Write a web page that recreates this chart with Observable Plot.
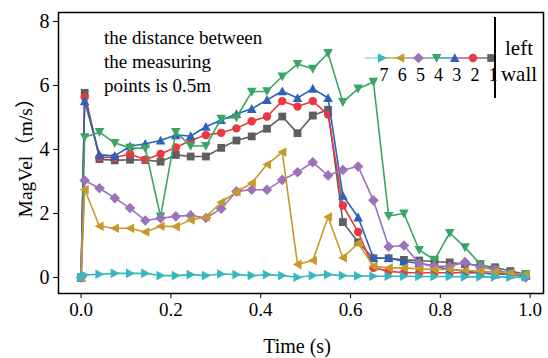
<!DOCTYPE html>
<html>
<head>
<meta charset="utf-8">
<script src="https://cdn.jsdelivr.net/npm/d3@7"></script>
<script src="https://cdn.jsdelivr.net/npm/@observablehq/plot@0.6"></script>
<style>
  body { margin: 0; background: #fff; }
  #chart { width: 548px; height: 358px; }
</style>
</head>
<body>
<div id="chart"></div>
<script>
// Sampling times (s)
const time = [0, 0.008, 0.041, 0.075, 0.109, 0.143, 0.177, 0.211, 0.244, 0.278, 0.312,
  0.346, 0.380, 0.414, 0.448, 0.482, 0.516, 0.550, 0.583, 0.617, 0.651,
  0.685, 0.719, 0.753, 0.787, 0.821, 0.855, 0.889, 0.922, 0.956, 0.990];

// Velocity magnitude (m/s) at measuring points 1..7
const point1 = [0, 5.77, 3.70, 3.66, 3.68, 3.67, 3.62, 3.83, 3.78, 3.78, 4.05,
  4.28, 4.41, 4.65, 5.03, 4.51, 5.06, 5.24, 1.73, 1.10, 0.60,
  0.60, 0.55, 0.53, 0.50, 0.47, 0.42, 0.37, 0.32, 0.20, 0.10];
const point2 = [0, 5.63, 3.76, 3.75, 3.86, 3.68, 3.86, 4.06, 4.28, 4.45, 4.52,
  4.66, 4.88, 5.03, 5.51, 5.34, 5.51, 5.09, 2.25, 1.42, 0.30,
  0.20, 0.15, 0.15, 0.15, 0.15, 0.15, 0.14, 0.12, 0.10, 0.10];
const point3 = [0, 5.51, 3.83, 3.80, 4.10, 4.18, 4.28, 4.45, 4.42, 4.71, 4.92,
  5.11, 5.27, 5.55, 5.82, 5.61, 5.90, 5.61, 2.56, 1.88, 0.61,
  0.61, 0.50, 0.45, 0.35, 0.25, 0.20, 0.15, 0.10, 0.10, 0.05];
const point4 = [0, 4.38, 4.54, 4.20, 4.05, 4.03, 1.90, 4.54, 4.11, 4.11, 4.96,
  5.00, 5.80, 5.82, 6.28, 6.67, 6.52, 7.01, 5.48, 5.90, 6.11,
  1.92, 2.00, 0.86, 0.55, 1.39, 0.94, 0.42, 0.25, 0.12, 0.10];
const point5 = [0, 3.03, 2.79, 2.48, 2.17, 1.78, 1.85, 1.91, 1.94, 1.86, 2.15,
  2.69, 2.74, 2.74, 3.05, 3.29, 3.60, 3.19, 3.36, 3.47, 2.41,
  0.96, 1.00, 0.44, 0.35, 0.35, 0.48, 0.32, 0.25, 0.10, 0.00];
const point6 = [0, 2.75, 1.60, 1.54, 1.54, 1.42, 1.60, 1.59, 1.80, 1.89, 2.35,
  2.67, 2.95, 3.53, 3.92, 0.41, 0.53, 1.89, 0.62, 1.07, 0.35,
  0.30, 0.30, 0.27, 0.25, 0.25, 0.22, 0.20, 0.17, 0.13, 0.10];
const point7 = [0, 0.08, 0.10, 0.13, 0.13, 0.13, 0.06, 0.06, 0.09, 0.06, 0.11,
  0.09, 0.06, 0.09, 0.06, 0.01, 0.06, 0.09, 0.06, 0.05, 0.04,
  0.04, 0.04, 0.03, 0.03, 0.03, 0.02, 0.02, 0.02, 0.01, 0.01];

const pointNames = ["1", "2", "3", "4", "5", "6", "7"];
const pointColors = ["#5f5f5f", "#e8393c", "#2d62b9", "#3aa566", "#9c72bd", "#c9982c", "#37b7bf"];
const xTicks = [0, 0.2, 0.4, 0.6, 0.8, 1.0];
const yTicks = [0, 2, 4, 6, 8];
const noteLines = ["the distance between", "the measuring", "points is 0.5m"];
const wallLines = ["left", "wall"];

// Marker shapes: polygon outlines scaled by the dot radius
const polygon = (pts) => ({
  draw(ctx, size) {
    const a = Math.sqrt(size / Math.PI);
    ctx.moveTo(pts[0][0] * a, pts[0][1] * a);
    for (let i = 1; i < pts.length; ++i) ctx.lineTo(pts[i][0] * a, pts[i][1] * a);
    ctx.closePath();
  }
});
const shapes = [
  {symbol: polygon([[-0.85, -0.85], [0.85, -0.85], [0.85, 0.85], [-0.85, 0.85]]), r: 4.6}, // square
  {symbol: "circle", r: 4.2},                                                              // circle
  {symbol: polygon([[0, -1], [1, 0.85], [-1, 0.85]]), r: 4.8},                             // triangle up
  {symbol: polygon([[0, 1], [1, -0.85], [-1, -0.85]]), r: 4.8},                            // triangle down
  {symbol: polygon([[0, -1], [1, 0], [0, 1], [-1, 0]]), r: 5.3},                           // diamond
  {symbol: polygon([[-1, 0], [0.85, -1], [0.85, 1]]), r: 4.8},                             // triangle left
  {symbol: polygon([[1, 0], [-0.85, -1], [-0.85, 1]]), r: 4.8}                             // triangle right
];

const seriesValues = [point1, point2, point3, point4, point5, point6, point7];
const series = seriesValues.map((vals, i) => ({
  name: pointNames[i],
  color: pointColors[i],
  shape: shapes[i],
  rows: time.map((t, j) => ({time: t, vel: vals[j], point: pointNames[i]}))
}));

const font = "'Liberation Serif', 'Times New Roman', serif";

const marks = [];
for (const s of series) {
  marks.push(Plot.line(s.rows, {x: "time", y: "vel", stroke: s.color, strokeWidth: 1.6}));
  marks.push(Plot.dot(s.rows, {x: "time", y: "vel", symbol: s.shape.symbol, r: s.shape.r, fill: s.color, stroke: "none"}));
}

const chart = Plot.plot({
  width: 548,
  height: 358,
  marginLeft: 58,
  marginRight: 5,
  marginTop: 12,
  marginBottom: 65,
  style: {fontFamily: font, fontSize: "19px", color: "black", background: "white"},
  x: {domain: [-0.0503, 1.0298]},
  y: {domain: [-0.5, 8.28]},
  marks: [
    ...marks,
    Plot.axisX({ticks: xTicks, tickFormat: (d) => d.toFixed(1), tickSize: 5, tickPadding: 4, label: null,
      fontSize: 19, fontFamily: font}),
    Plot.axisY({ticks: yTicks, tickSize: 5, tickPadding: 4, label: null, fontSize: 20, fontFamily: font}),
    Plot.frame({stroke: "black", strokeWidth: 1.5})
  ]
});
document.getElementById("chart").appendChild(chart);

// Titles, note and the in-plot legend
const svg = d3.select(chart);

svg.append("text")
  .attr("transform", "translate(25,153) rotate(-90)")
  .attr("text-anchor", "middle")
  .attr("dominant-baseline", "central")
  .style("font-family", font + ", 'Noto Sans CJK SC'")
  .style("font-size", "19.5px")
  .text("MagVel（m/s）");

svg.append("text")
  .attr("x", 297).attr("y", 353)
  .attr("text-anchor", "middle")
  .style("font-family", font)
  .style("font-size", "20px")
  .text("Time (s)");

svg.append("g")
  .style("font-family", font)
  .style("font-size", "19px")
  .attr("text-anchor", "start")
  .selectAll("text")
  .data(noteLines)
  .join("text")
  .attr("text-anchor", "start")
  .attr("x", 104)
  .attr("y", (d, i) => 44 + i * 24)
  .text((d) => d);

// Legend: points 7..1 laid out left to right toward the wall
const legendOrder = series.slice().reverse();
const legendX = (i) => 382 + i * 18.2;
const legendY = 58;
const lg = svg.append("g");
legendOrder.forEach((s, i) => {
  lg.append("line")
    .attr("x1", legendX(i) - 17).attr("x2", Math.min(legendX(i) + 17, 495))
    .attr("y1", legendY).attr("y2", legendY)
    .attr("stroke", s.color).attr("stroke-width", 1.2).attr("stroke-opacity", 0.8);
});
legendOrder.forEach((s, i) => {
  const sym = typeof s.shape.symbol === "string" ? d3.symbolCircle : s.shape.symbol;
  lg.append("path")
    .attr("transform", `translate(${legendX(i)},${legendY})`)
    .attr("d", d3.symbol().type(sym).size(Math.PI * s.shape.r * s.shape.r)())
    .attr("fill", s.color);
  lg.append("text")
    .attr("x", legendX(i) + 2).attr("y", 81)
    .attr("text-anchor", "middle")
    .style("font-family", font)
    .style("font-size", "18px")
    .text(s.name);
});
lg.append("line")
  .attr("x1", 495).attr("x2", 495).attr("y1", 17).attr("y2", 98)
  .attr("stroke", "black").attr("stroke-width", 2);
lg.selectAll("text.wall")
  .data(wallLines)
  .join("text")
  .attr("class", "wall")
  .attr("x", 519)
  .attr("y", (d, i) => 55 + i * 26)
  .attr("text-anchor", "middle")
  .style("font-family", font)
  .style("font-size", "21px")
  .text((d) => d);
</script>
</body>
</html>
